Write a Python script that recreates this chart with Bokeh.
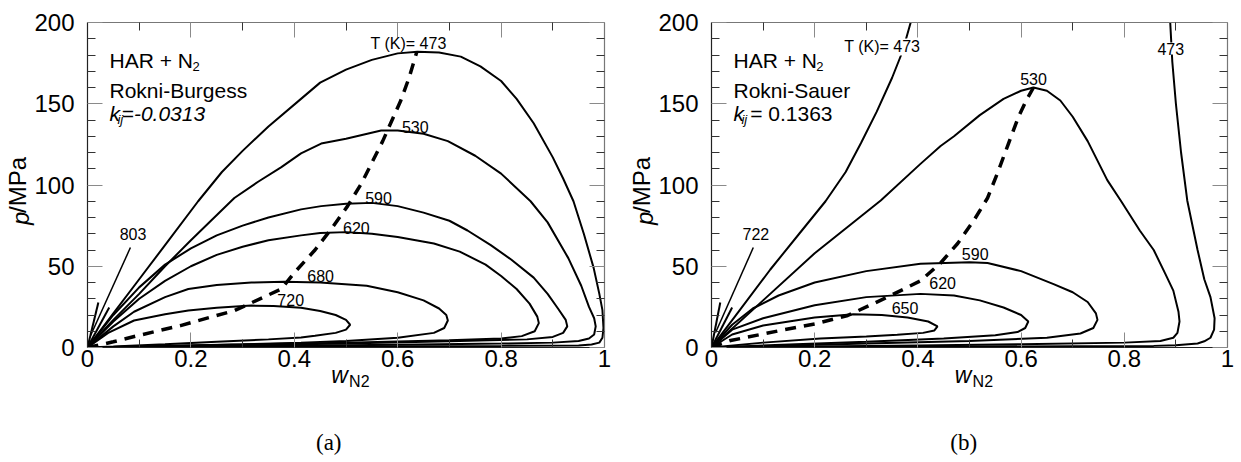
from bokeh.plotting import figure
from bokeh.models import Range1d, LinearAxis, FixedTicker, CustomJSTickFormatter, Label
from bokeh.layouts import row
from bokeh.embed import file_html
from bokeh.resources import INLINE

# ---------------- panel (a): Rokni-Burgess ----------------
A_473_W = [0, 0.05, 0.1, 0.15, 0.214, 0.26, 0.3, 0.35, 0.413, 0.45, 0.5, 0.55, 0.6, 0.638, 0.68, 0.722, 0.76, 0.8, 0.83, 0.863, 0.9, 0.92, 0.94, 0.96, 0.979, 0.99, 0.996, 0.998, 0.996, 0.99, 0.975, 0.95, 0.8, 0.5, 0.2, 0]
A_473_P = [0, 21, 42, 63, 90, 108, 121, 136, 153, 163, 171, 177, 181, 182, 181.5, 179, 173, 164, 153, 138, 117, 104, 90, 70, 49, 33, 23, 12, 6, 3, 1.8, 1.3, 1.0, 0.6, 0.3, 0]
A_530_W = [0, 0.05, 0.1, 0.15, 0.2, 0.284, 0.33, 0.375, 0.413, 0.452, 0.5, 0.568, 0.6, 0.65, 0.697, 0.75, 0.8, 0.857, 0.89, 0.93, 0.955, 0.97, 0.98, 0.983, 0.98, 0.97, 0.95, 0.9, 0.8, 0.6, 0.4, 0.2, 0]
A_530_P = [0, 17, 33, 50, 66, 92, 102, 111, 119.5, 125.5, 128.5, 133.5, 133.5, 131.5, 127, 118, 107, 90, 77, 55, 38, 25, 18, 13, 8, 5.5, 4, 3, 2.4, 1.7, 1.1, 0.5, 0]
A_590_W = [0, 0.05, 0.1, 0.15, 0.2, 0.25, 0.3, 0.35, 0.413, 0.452, 0.5, 0.55, 0.6, 0.65, 0.7, 0.735, 0.78, 0.82, 0.863, 0.89, 0.91, 0.925, 0.928, 0.92, 0.9, 0.85, 0.7, 0.5, 0.3, 0.15, 0]
A_590_P = [0, 20, 37, 51, 61, 69, 75, 80, 85, 87, 88.5, 89, 87, 83, 78, 72, 63, 54, 43, 33, 24, 17, 13, 9, 6.5, 5, 3.8, 2.5, 1.5, 0.8, 0]
A_620_W = [0, 0.05, 0.1, 0.15, 0.2, 0.25, 0.3, 0.35, 0.413, 0.45, 0.5, 0.55, 0.6, 0.67, 0.72, 0.77, 0.8, 0.83, 0.855, 0.87, 0.873, 0.865, 0.84, 0.8, 0.7, 0.5, 0.3, 0.15, 0]
A_620_P = [0, 16, 30, 41, 50, 57, 62, 66, 69, 70.5, 71, 70, 68, 64, 59, 51, 44, 36, 27, 19, 15, 10, 7, 5.5, 4.5, 3, 1.8, 0.9, 0]
A_680_W = [0, 0.05, 0.09, 0.15, 0.195, 0.25, 0.317, 0.38, 0.45, 0.54, 0.6, 0.65, 0.68, 0.694, 0.697, 0.69, 0.67, 0.6, 0.5, 0.413, 0.3, 0.15, 0]
A_680_P = [0, 13, 22, 31, 36, 38.5, 40, 40.5, 40, 38, 34, 29, 24, 20, 16.6, 12, 9, 6, 4, 3, 2, 1, 0]
A_720_W = [0, 0.04, 0.09, 0.15, 0.195, 0.25, 0.317, 0.36, 0.413, 0.45, 0.48, 0.5, 0.508, 0.5, 0.48, 0.44, 0.413, 0.35, 0.25, 0.15, 0.05, 0]
A_720_P = [0, 9, 16.6, 20.5, 22.8, 24.5, 25.8, 25.5, 24.5, 22.5, 20, 17, 14, 11, 9, 7.2, 6.2, 5, 3.5, 2, 0.6, 0]
A_HI1_W = [0, 0.021]
A_HI1_P = [0, 27.7]
A_HI2_W = [0, 0.042]
A_HI2_P = [0, 24.6]
A_PTR_W = [0.083, 0.006]
A_PTR_P = [61.5, 7.4]
A_CRIT_W = [0, 0.05, 0.1, 0.18, 0.285, 0.375, 0.4, 0.44, 0.474, 0.503, 0.53, 0.571, 0.606, 0.622, 0.637]
A_CRIT_P = [0, 3.5, 7.5, 13.5, 22.8, 36, 46, 60, 74, 87, 101, 127, 152, 166, 182]

# ---------------- panel (b): Rokni-Sauer ----------------
B_473L_W = [0, 0.05, 0.114, 0.17, 0.221, 0.26, 0.29, 0.32, 0.35, 0.37, 0.386]
B_473L_P = [0, 21, 48, 70, 90, 108, 126, 145, 166, 182, 200]
B_473R_W = [0.889, 0.891, 0.893, 0.9, 0.91, 0.922, 0.942, 0.955, 0.967, 0.975, 0.974, 0.967, 0.955, 0.942, 0.9, 0.857, 0.7, 0.5, 0.3, 0.1, 0]
B_473R_P = [200, 188, 176, 150, 120, 90.5, 60, 42, 31, 18, 11, 6, 3.8, 2.5, 1.4, 1.0, 0.8, 0.6, 0.4, 0.15, 0]
B_530_W = [0, 0.1, 0.2, 0.328, 0.405, 0.444, 0.47, 0.52, 0.566, 0.6, 0.624, 0.65, 0.676, 0.7, 0.729, 0.767, 0.793, 0.83, 0.857, 0.88, 0.895, 0.905, 0.907, 0.903, 0.895, 0.87, 0.8, 0.6, 0.4, 0.2, 0]
B_530_P = [0, 29, 58, 90.5, 113, 124, 130, 143, 153, 158, 160, 158, 152, 142, 127, 103, 90.5, 72, 60, 45, 35, 22, 16, 9, 6, 4, 3, 2, 1.2, 0.6, 0]
B_590_W = [0, 0.04, 0.08, 0.13, 0.2, 0.3, 0.405, 0.5, 0.535, 0.6, 0.663, 0.7, 0.729, 0.745, 0.748, 0.74, 0.715, 0.65, 0.5, 0.3, 0.15, 0]
B_590_P = [0, 14, 24, 32, 40, 47, 51.5, 52.5, 52, 47, 39, 34, 28, 21, 17, 12, 8.6, 6, 4, 2.5, 1.2, 0]
B_620_W = [0, 0.04, 0.1, 0.2, 0.3, 0.405, 0.47, 0.52, 0.566, 0.6, 0.614, 0.608, 0.593, 0.55, 0.45, 0.3, 0.15, 0]
B_620_P = [0, 11, 18, 26, 31, 33, 32, 29, 24.6, 20, 16, 12, 9.5, 7.5, 5.5, 3.5, 1.8, 0]
B_650_W = [0, 0.04, 0.1, 0.2, 0.275, 0.33, 0.38, 0.42, 0.438, 0.432, 0.41, 0.36, 0.3, 0.211, 0.1, 0]
B_650_P = [0, 8, 13.5, 18.5, 20.5, 20, 18.5, 16, 13, 10.5, 9, 7.8, 6.8, 5.5, 3, 0]
B_HI1_W = [0, 0.017]
B_HI1_P = [0, 27.7]
B_HI2_W = [0, 0.04]
B_HI2_P = [0, 24.6]
B_PTR_W = [0.081, 0.008]
B_PTR_P = [61.5, 9.2]
B_CRIT_W = [0, 0.037, 0.134, 0.2, 0.264, 0.341, 0.405, 0.444, 0.477, 0.508, 0.535, 0.555, 0.575, 0.595, 0.61, 0.624]
B_CRIT_P = [0, 4.3, 10.5, 14.5, 19.7, 31, 41, 52, 64, 78, 92, 108, 125, 142, 152, 160]

X_TICKS = [0, 0.2, 0.4, 0.6, 0.8, 1.0]
X_MINOR = [0.1, 0.3, 0.5, 0.7, 0.9]
Y_TICKS = [0, 50, 100, 150, 200]
Y_MINOR = [v for v in range(10, 200, 10) if v % 50 != 0]

FONT = "Liberation Sans"
H = 461
FS = "\u2007"  # figure space, used to shift centred titles sideways


def title_axis(p, loc, text, size, italic=False, font=FONT, standoff=0):
    """An axis without line, ticks or tick labels that only carries a title."""
    ax = LinearAxis(ticker=FixedTicker(ticks=[], minor_ticks=[]))
    ax.formatter = CustomJSTickFormatter(code="return '';")
    ax.axis_line_color = None
    ax.major_tick_line_color = None
    ax.minor_tick_line_color = None
    ax.major_tick_out = 0
    ax.minor_tick_out = 0
    ax.major_label_standoff = 0
    ax.axis_label = text
    ax.axis_label_text_font = font
    ax.axis_label_text_font_size = f"{size}px"
    ax.axis_label_text_font_style = "italic" if italic else "normal"
    ax.axis_label_text_color = "black"
    ax.axis_label_standoff = standoff
    p.add_layout(ax, loc)


def make_fig(width, bl, br):
    p = figure(width=width, height=H, x_range=Range1d(0, 1), y_range=Range1d(0, 200),
               output_backend="svg", toolbar_location=None,
               min_border_left=bl, min_border_right=br, min_border_top=22, min_border_bottom=H - 22 - 325,
               x_axis_location=None, y_axis_location=None)
    p.xgrid.visible = False
    p.ygrid.visible = False
    p.outline_line_color = None
    p.background_fill_color = "white"
    p.border_fill_color = "white"

    fmt_x = CustomJSTickFormatter(code="return String(Math.round(tick*10)/10);")
    blank = CustomJSTickFormatter(code="return '';")
    specs = [("below", "x", fmt_x, "#222"), ("above", "x", blank, "#777"),
             ("left", "y", None, "#222"), ("right", "y", blank, "#777")]
    for loc, dim, fmt, lc in specs:
        if dim == "x":
            tk = FixedTicker(ticks=X_TICKS, minor_ticks=X_MINOR)
        else:
            tk = FixedTicker(ticks=Y_TICKS, minor_ticks=Y_MINOR)
        ax = LinearAxis(ticker=tk)
        if fmt is not None:
            ax.formatter = fmt
        ax.axis_line_color = lc
        ax.axis_line_width = 1.2
        ax.major_tick_in = 15
        ax.major_tick_out = 0
        ax.minor_tick_in = 8
        ax.minor_tick_out = 0
        ax.major_tick_line_color = "#8a8a8a"
        ax.minor_tick_line_color = "#333333"
        ax.major_label_text_font = FONT
        ax.major_label_text_font_size = "24px"
        ax.major_label_text_color = "black"
        if loc == "below":
            ax.major_label_standoff = 2
        elif loc == "left":
            ax.major_label_standoff = 13
        else:
            ax.major_label_standoff = 0
            ax.major_label_text_font_size = "1px"
        p.add_layout(ax, loc)
    return p


def lab(p, x, y, text, size, italic=False, align="left", baseline="alphabetic", bg=None):
    l = Label(x=x, y=y, text=text, text_font=FONT, text_font_size=f"{size}px",
              text_font_style="italic" if italic else "normal", text_align=align,
              text_baseline=baseline, text_color="black")
    if bg is not None:
        l.background_fill_color = bg
    p.add_layout(l)


def axis_titles(p, cap, cap_pad):
    title_axis(p, "left", "p" + FS * 5, 24, italic=True, standoff=-2)
    title_axis(p, "left", "/MPa", 24, standoff=-27)
    title_axis(p, "below", "w" + FS, 23, italic=True, standoff=-8)
    title_axis(p, "below", FS * 3 + "N2", 16, standoff=-18)
    title_axis(p, "below", cap + FS * cap_pad, 23, font="Liberation Serif", standoff=37)


# ---------------- figure (a) ----------------
pa = make_fig(620, 86, 16)
for w, pr in [(A_473_W, A_473_P), (A_530_W, A_530_P), (A_590_W, A_590_P), (A_620_W, A_620_P),
              (A_680_W, A_680_P), (A_720_W, A_720_P), (A_HI1_W, A_HI1_P), (A_HI2_W, A_HI2_P)]:
    pa.line(w, pr, line_color="black", line_width=2)
pa.line(A_PTR_W, A_PTR_P, line_color="black", line_width=1.5)
pa.line(A_CRIT_W, A_CRIT_P, line_color="black", line_width=3.5, line_dash="11 8")

lab(pa, 0.0425, 176.6, "HAR + N", 21)
lab(pa, 0.203, 173.0, "2", 13)
lab(pa, 0.0425, 158.2, "Rokni-Burgess", 21)
lab(pa, 0.0425, 144.0, "k", 21, italic=True)
lab(pa, 0.058, 140.5, "ij", 13, italic=True)
lab(pa, 0.066, 144.0, "=-0.0313", 21, italic=True)
for x, y, t in [(0.621, 187, "T (K)= 473"), (0.634, 136, "530"), (0.563, 92.3, "590"),
                (0.52, 73.8, "620"), (0.451, 43.7, "680"), (0.393, 29.5, "720"), (0.088, 70, "803")]:
    lab(pa, x, y, t, 16, align="center", baseline="middle")
axis_titles(pa, "(a)", 3)

# ---------------- figure (b) ----------------
pb = make_fig(620, 91, 13)
for w, pr in [(B_473L_W, B_473L_P), (B_473R_W, B_473R_P), (B_530_W, B_530_P), (B_590_W, B_590_P),
              (B_620_W, B_620_P), (B_650_W, B_650_P), (B_HI1_W, B_HI1_P), (B_HI2_W, B_HI2_P)]:
    pb.line(w, pr, line_color="black", line_width=2)
pb.line(B_PTR_W, B_PTR_P, line_color="black", line_width=1.5)
pb.line(B_CRIT_W, B_CRIT_P, line_color="black", line_width=3.5, line_dash="11 8")

lab(pb, 0.0426, 176.6, "HAR + N", 21)
lab(pb, 0.203, 173.0, "2", 13)
lab(pb, 0.0426, 158.2, "Rokni-Sauer", 21)
lab(pb, 0.0426, 144.0, "k", 21, italic=True)
lab(pb, 0.058, 140.5, "ij", 13, italic=True)
lab(pb, 0.075, 144.0, "= 0.1363", 21)
lab(pb, 0.331, 185, "T (K)= 473", 16, align="center", baseline="middle", bg="white")
lab(pb, 0.89, 184, "473", 16, align="center", baseline="middle", bg="white")
for x, y, t in [(0.624, 165.5, "530"), (0.511, 57.8, "590"), (0.448, 39.4, "620"),
                (0.375, 24.6, "650"), (0.086, 70, "722")]:
    lab(pb, x, y, t, 16, align="center", baseline="middle")
axis_titles(pb, "(b)", 1)

layout = row(pa, pb)
open("out.html", "w").write(file_html(layout, INLINE))
